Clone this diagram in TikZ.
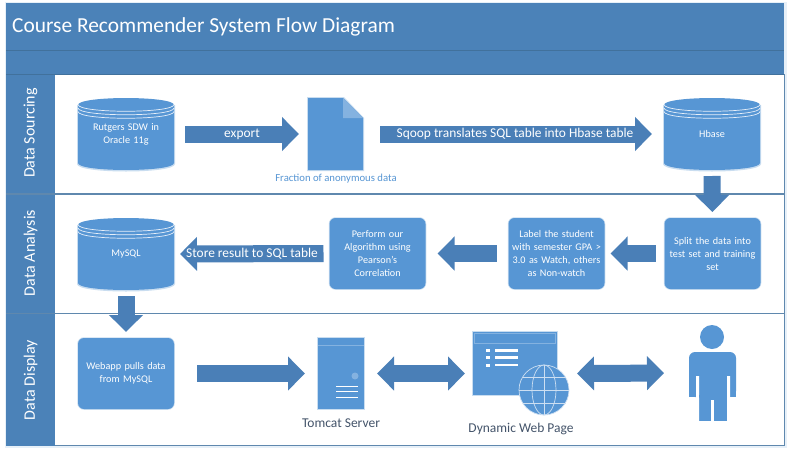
\documentclass[tikz,border=0pt]{standalone}
\usepackage{fontspec}
\setmainfont{Carlito}
\usetikzlibrary{arrows.meta}
\definecolor{fillblue}{HTML}{5796D4}
\definecolor{bandblue}{HTML}{4B82B8}
\definecolor{arrowblue}{HTML}{4A7FB7}
\definecolor{lineblue}{HTML}{5F88AE}
\definecolor{darkline}{HTML}{41719C}
\definecolor{darktext}{HTML}{44546A}
\definecolor{lightblue}{HTML}{84B2E0}
\definecolor{glowblue}{HTML}{C9DDF0}
\tikzset{
  shapetext/.style={text=white,font=\fontsize{10.2}{13}\selectfont,align=center,inner sep=0pt,outer sep=0pt},
  roundbox/.style={shapetext,fill=fillblue,rounded corners=6pt,minimum width=96pt,minimum height=71pt,text width=92pt,preaction={draw=glowblue,line width=1.5pt}},
  ghost/.style={inner sep=0pt,outer sep=0pt},
  blockarrow/.style={draw=arrowblue,line width=17pt,-{Triangle[length=17pt,width=33pt,fill=arrowblue]}},
  blockdouble/.style={draw=arrowblue,line width=17pt,{Triangle[length=17pt,width=33pt,fill=arrowblue]}-{Triangle[length=17pt,width=33pt,fill=arrowblue]}},
  arrowtext/.style={text=white,font=\fontsize{13.4}{16}\selectfont,inner sep=0pt},
  lanetext/.style={text=white,font=\fontsize{16}{19}\selectfont,rotate=90,inner sep=0pt},
  captiontext/.style={text=darktext,font=\fontsize{13.5}{16}\selectfont,inner sep=0pt},
  whiteline/.style={draw=white,line width=1pt},
  arcline/.style={draw=white!85!fillblue,line width=.7pt},
}
\newcommand{\dbcyl}[4]{% name, cx, cy, text
  \fill[glowblue] ({#2-49},{#3-29}) -- ({#2-49},{#3+30}) .. controls ({#2-49},{#3+40}) and ({#2+49},{#3+40}) .. ({#2+49},{#3+30}) -- ({#2+49},{#3-29}) -- cycle;
  \fill[fillblue] ({#2-48},{#3-29}) -- ({#2-48},{#3+29}) .. controls ({#2-48},{#3+38.3}) and ({#2+48},{#3+38.3}) .. ({#2+48},{#3+29}) -- ({#2+48},{#3-29}) .. controls ({#2+48},{#3-38.3}) and ({#2-48},{#3-38.3}) .. cycle;
  \foreach \dy in {-29.5,-26,-22.5}{
    \draw[arcline] ({#2-48},{#3+\dy}) .. controls ({#2-48},{#3+\dy+9}) and ({#2+48},{#3+\dy+9}) .. ({#2+48},{#3+\dy});
  }
  \node[shapetext,minimum width=96pt,minimum height=72pt,text width=92pt] (#1) at (#2,#3) {#4};
}
\begin{document}
\begin{tikzpicture}[x=1pt,y=-1pt]
\useasboundingbox (0,0) rectangle (790,453);
\fill[white] (0,0) rectangle (790,453);
% frame and bands
\draw[glowblue!45,line width=2.5pt] (6,3) rectangle (785.5,446.5);
\fill[bandblue] (6,3) rectangle (784,74);
\fill[bandblue] (6,74) rectangle (55,445.5);
\draw[darkline,line width=.8pt] (6,50.7) -- (784,50.7);
\draw[darkline,line width=1pt] (6,74.5) -- (784,74.5);
\draw[lineblue,line width=1.6pt] (6,194) -- (784,194);
\draw[lineblue,line width=1pt] (6,313.7) -- (784,313.7);
\draw[lineblue,line width=1pt] (55,445.5) -- (784.5,445.5) -- (784.5,74);
\node[anchor=west,text=white,font=\fontsize{21.4}{25}\selectfont,inner sep=0pt] (title) at (12,27) {Course Recommender System Flow Diagram};
\node[lanetext] (lanea) at (30.5,133) {Data Sourcing};
\node[lanetext] (laneb) at (30.5,253) {Data Analysis};
\node[lanetext] (lanec) at (30.5,380) {Data Display};

% data stores
\dbcyl{rutgers}{126}{134}{Rutgers SDW in\\Oracle 11g}
\dbcyl{hbase}{712}{134}{Hbase}
\dbcyl{mysql}{126}{254}{MySQL}

% document
\fill[glowblue] (307,97) -- (344,97) -- (364,118) -- (364,171) -- (307,171) -- cycle;
\node[ghost,minimum width=56pt,minimum height=72pt] (doc) at (335,134) {};
\fill[fillblue] (308,98) -- (343,98) -- (363,118) -- (363,170) -- (308,170) -- cycle;
\fill[lightblue] (343,98) -- (363,118) -- (343,118) -- cycle;
\node[text=fillblue,font=\fontsize{10.7}{12}\selectfont,inner sep=0pt] (doccap) at (336,178.5) {Fraction of anonymous data};

% process boxes
\node[roundbox] (split) at (712.5,253.5) {Split the data into\\test set and training\\set};
\node[roundbox] (label) at (556.5,253.5) {Label the student\\with semester GPA >\\3.0 as Watch, others\\as Non-watch};
\node[roundbox] (perform) at (377.5,253.5) {Perform our\\Algorithm using\\Pearson’s\\Correlation};
\node[roundbox] (webapp) at (126,373.5) {Webapp pulls data\\from MySQL};

% server
\fill[glowblue] (317,337) rectangle (365,410);
\node[ghost,fill=fillblue,minimum width=46pt,minimum height=71pt] (tomcat) at (341,373.5) {};
\draw[lightblue,line width=.6pt] (318,345) -- (364,345);
\fill[lightblue] (355,376) circle[radius=3.5];
\foreach \ly in {386,391.5,397} \draw[whiteline] (336,\ly) -- (358,\ly);
\node[captiontext] (tomcatcap) at (341,423) {Tomcat Server};

% web page
\node[ghost,minimum width=96pt,minimum height=83pt] (web) at (521,373.5) {};
\fill[glowblue] (472,331) rectangle (558,396);
\fill[fillblue] (473,332) rectangle (557,395);
\draw[lightblue,line width=1pt] (474,333) rectangle (555,343);
\foreach \ly in {350.5,357.5,365}{
  \fill[white] (486,{\ly-1.5}) rectangle (490,{\ly+1.5});
  \fill[white] (495,{\ly-1.2}) rectangle (518,{\ly+1.2});
}
\fill[fillblue] (544,390) circle[radius=25];
\draw[white!70!fillblue,line width=.7pt] (544,390) circle[radius=25];
\draw[white!70!fillblue,line width=.7pt] (544,390) circle[x radius=12,y radius=25];
\draw[white!70!fillblue,line width=.7pt] (544,365) -- (544,415) (519,390) -- (569,390) (522.5,377) -- (565.5,377) (522.5,403) -- (565.5,403);
\node[captiontext] (webcap) at (521,429) {Dynamic Web Page};

% person
\node[ghost,minimum width=47pt,minimum height=96pt] (person) at (712.5,373) {};
\fill[fillblue] (712,337) circle[radius=12];
\fill[fillblue,rounded corners=6pt] (689,397) -- (689,352) -- (736,352) -- (736,397) -- cycle;
\fill[fillblue] (689,390) rectangle (736,397);
\fill[white] (696,376) rectangle (699,398) (727,376) rectangle (730,398);
\fill[fillblue] (699,395) rectangle (727,421);
\fill[white] (710.5,400) rectangle (713.5,422);
\fill[white] (688,397.5) rectangle (699,422) (727,397.5) rectangle (737,422);

% connectors
\draw[blockarrow,shorten <=11pt,shorten >=8pt] (rutgers.east) -- (doc.west);
\draw[blockarrow,shorten <=17pt,shorten >=12pt] (doc.east) -- (hbase.west);
\draw[blockarrow,shorten <=6pt,shorten >=6pt] (hbase.south) -- (split.north);
\draw[blockarrow,shorten <=9pt,shorten >=6pt] (split.west) -- (label.east);
\draw[blockarrow,shorten <=12pt,shorten >=12pt] (label.west) -- (perform.east);
\draw[blockarrow,shorten <=6pt,shorten >=6pt] (perform.west) -- (mysql.east);
\draw[blockarrow,shorten <=6pt,shorten >=6pt] (mysql.south) -- (webapp.north);
\draw[blockarrow,shorten <=23pt,shorten >=13pt] (webapp.east) -- (tomcat.west);
\draw[blockdouble,shorten <=13pt,shorten >=8pt] (tomcat.east) -- (web.west);
\draw[blockdouble,shorten <=8pt,shorten >=25pt] (web.east) -- (person.west);

% arrow texts
\node[arrowtext] (exporttext) at (242,134) {export};
\node[arrowtext] (sqooptext) at (515,134) {Sqoop translates SQL table into Hbase table};
\node[arrowtext] (storetext) at (252,254) {Store result to SQL table};
\end{tikzpicture}
\end{document}
